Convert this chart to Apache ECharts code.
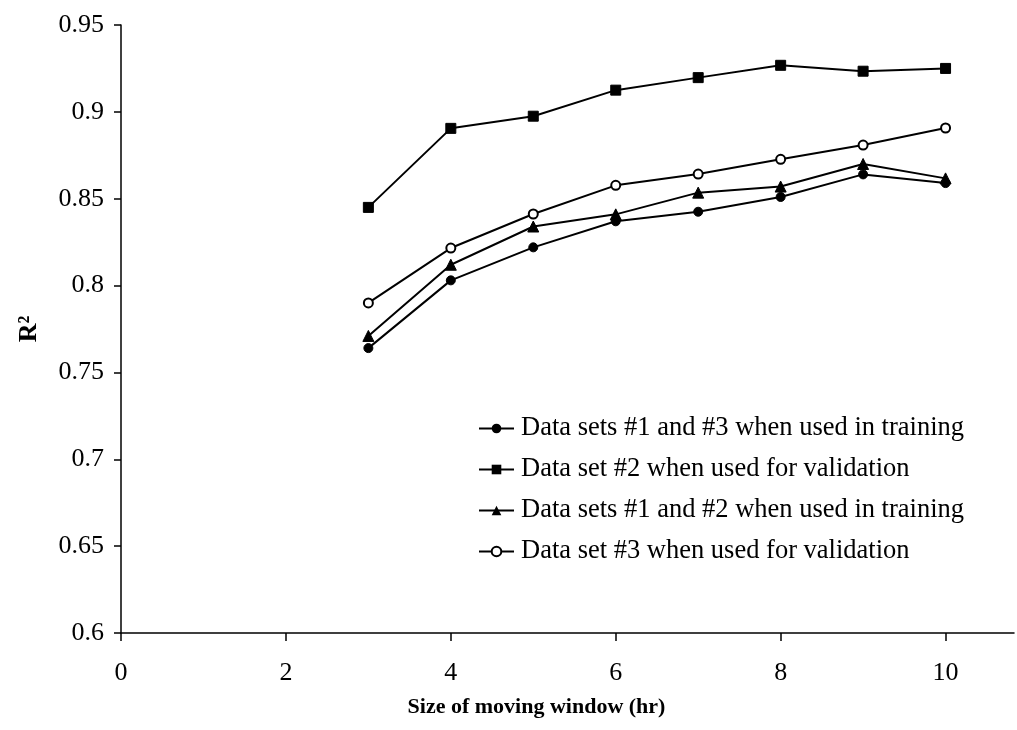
<!DOCTYPE html>
<html>
<head>
<meta charset="utf-8">
<script src="https://cdn.jsdelivr.net/npm/echarts@6/dist/echarts.min.js"></script>
<style>
  html, body { margin: 0; padding: 0; background: #ffffff; }
  #chart { width: 1017px; height: 730px; }
</style>
</head>
<body>
<div id="chart"></div>
<script>
// Moving-window size (hours)
const windowSizes = [3, 4, 5, 6, 7, 8, 9, 10];

// R² for each data-set combination
const train13 = [0.764, 0.803, 0.822, 0.837, 0.8425, 0.851, 0.864, 0.859];
const valid2  = [0.845, 0.8905, 0.8975, 0.9125, 0.9197, 0.9268, 0.9234, 0.925];
const train12 = [0.771, 0.812, 0.834, 0.841, 0.8535, 0.857, 0.870, 0.8617];
const valid3  = [0.790, 0.8216, 0.8412, 0.8577, 0.8642, 0.8727, 0.8809, 0.8907];

const seriesNames = [
  'Data sets #1 and #3 when used in training',
  'Data set #2 when used for validation',
  'Data sets #1 and #2 when used in training',
  'Data set #3 when used for validation'
];

const xTicks = [0, 2, 4, 6, 8, 10];
const yTicks = [0.6, 0.65, 0.7, 0.75, 0.8, 0.85, 0.9, 0.95];

const serif = "'Liberation Serif', 'Times New Roman', serif";

function pairs(values) {
  return windowSizes.map((x, i) => [x, values[i]]);
}

function lineSeries(name, values, symbol, size, extra) {
  return Object.assign({
    name: name,
    type: 'line',
    data: pairs(values),
    symbol: symbol,
    symbolSize: size,
    showAllSymbol: true,
    lineStyle: { color: '#000', width: 2 },
    itemStyle: { color: '#000', borderColor: '#000' },
    emphasis: { disabled: true },
    animation: false
  }, extra || {});
}

const chart = echarts.init(document.getElementById('chart'), null, { renderer: 'canvas' });

chart.setOption({
  backgroundColor: '#ffffff',
  animation: false,
  textStyle: { fontFamily: serif, color: '#000' },
  grid: { left: 121, right: 3, top: 25, bottom: 97, containLabel: false, outerBoundsMode: 'none' },
  legend: {
    orient: 'vertical',
    left: 473,
    top: 410,
    itemWidth: 35,
    itemHeight: 12,
    itemGap: 14,
    data: seriesNames,
    textStyle: { fontFamily: serif, fontSize: 26.5, color: '#000', lineHeight: 26, padding: [0, 0, 0, 2] },
    selectedMode: false
  },
  xAxis: {
    type: 'value',
    min: 0,
    max: 10.83,
    interval: 2,
    name: 'Size of moving window (hr)',
    nameLocation: 'middle',
    nameGap: 63,
    nameTextStyle: { fontFamily: serif, fontSize: 22, fontWeight: 'bold', color: '#000', padding: [0, 62, 0, 0] },
    axisLine: { show: true, onZero: false, lineStyle: { color: '#000', width: 1.5 } },
    axisTick: { show: true, inside: false, length: 8, customValues: xTicks, lineStyle: { color: '#000', width: 1.5 } },
    axisLabel: { customValues: xTicks, margin: 27, fontFamily: serif, fontSize: 26, color: '#000' },
    splitLine: { show: false }
  },
  yAxis: {
    type: 'value',
    min: 0.6,
    max: 0.95,
    interval: 0.05,
    name: 'R²',
    nameLocation: 'middle',
    nameRotate: 90,
    nameGap: 79,
    nameTextStyle: { fontFamily: serif, fontSize: 26, fontWeight: 'bold', color: '#000' },
    axisLine: { show: true, onZero: false, lineStyle: { color: '#000', width: 1.5 } },
    axisTick: { show: true, inside: false, length: 7, customValues: yTicks, lineStyle: { color: '#000', width: 1.5 } },
    axisLabel: {
      customValues: yTicks,
      margin: 17,
      fontFamily: serif,
      fontSize: 26,
      color: '#000',
      formatter: v => String(Math.round(v * 100) / 100)
    },
    splitLine: { show: false }
  },
  series: [
    lineSeries(seriesNames[0], train13, 'circle', 9),
    lineSeries(seriesNames[1], valid2, 'rect', 10),
    lineSeries(seriesNames[2], train12, 'triangle', 11),
    lineSeries(seriesNames[3], valid3, 'emptyCircle', 9, {
      itemStyle: { color: '#000', borderColor: '#000', borderWidth: 1.6 }
    })
  ]
});
</script>
</body>
</html>
